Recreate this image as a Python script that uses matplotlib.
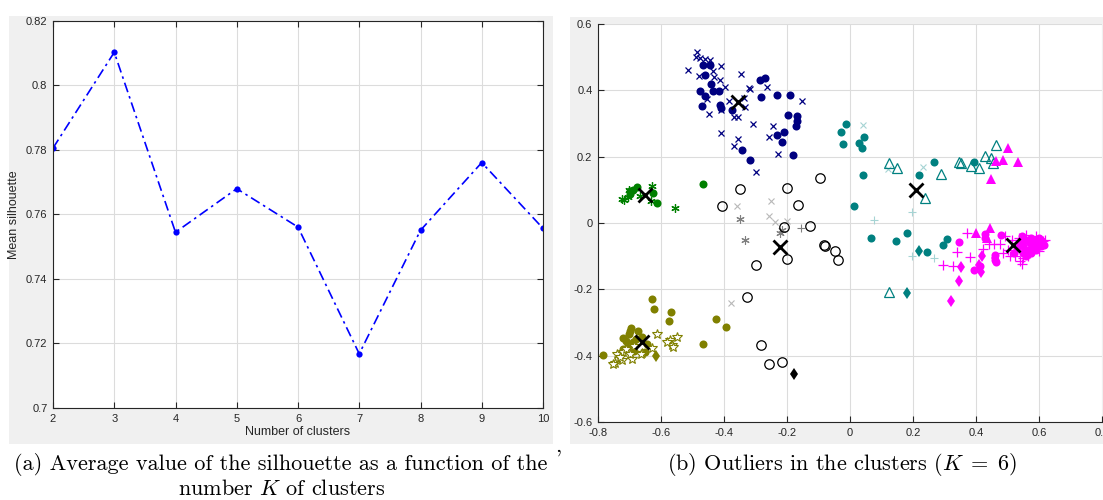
import matplotlib
matplotlib.use("Agg")
import matplotlib.pyplot as plt
from matplotlib.patches import Rectangle

plt.rcParams['font.family'] = ['Liberation Sans', 'DejaVu Sans']
plt.rcParams['axes.unicode_minus'] = False
plt.rcParams['mathtext.fontset'] = 'cm'

# mean silhouette vs number of clusters
n_clusters = [2, 3, 4, 5, 6, 7, 8, 9, 10]
mean_silhouette = [0.7806, 0.8103, 0.7545, 0.7680, 0.7561, 0.7168, 0.7551, 0.7761, 0.7557]
sil_yticks = [0.7, 0.72, 0.74, 0.76, 0.78, 0.8, 0.82]
sil_yticklabels = ['0.7', '0.72', '0.74', '0.76', '0.78', '0.8', '0.82']

# cluster 1 (navy)
navy_dots = [(-0.467, 0.475), (-0.445, 0.477), (-0.460, 0.446), (-0.442, 0.420), (-0.475, 0.397),
             (-0.460, 0.384), (-0.436, 0.397), (-0.416, 0.398), (-0.469, 0.354), (-0.414, 0.356),
             (-0.410, 0.348), (-0.374, 0.342), (-0.285, 0.430), (-0.270, 0.436), (-0.283, 0.379),
             (-0.231, 0.385), (-0.190, 0.385), (-0.198, 0.326), (-0.168, 0.323), (-0.169, 0.309),
             (-0.171, 0.291), (-0.233, 0.266), (-0.208, 0.274), (-0.216, 0.244), (-0.182, 0.206),
             (-0.343, 0.220), (-0.319, 0.190)]
navy_cross = [(-0.485, 0.517), (-0.488, 0.502), (-0.477, 0.497), (-0.460, 0.494), (-0.445, 0.492),
              (-0.513, 0.462), (-0.480, 0.442), (-0.436, 0.457), (-0.412, 0.432), (-0.409, 0.474),
              (-0.398, 0.410), (-0.449, 0.329), (-0.411, 0.342), (-0.409, 0.272), (-0.385, 0.369),
              (-0.367, 0.320), (-0.357, 0.320), (-0.346, 0.448), (-0.338, 0.376), (-0.332, 0.349),
              (-0.320, 0.406), (-0.307, 0.297), (-0.263, 0.409), (-0.243, 0.291), (-0.258, 0.259),
              (-0.227, 0.207), (-0.151, 0.367), (-0.357, 0.254), (-0.367, 0.232), (-0.299, 0.154),
              (-0.432, 0.440), (-0.455, 0.375), (-0.318, 0.403)]

# cluster 2 (green)
green_dots = [(-0.699, 0.096), (-0.677, 0.108), (-0.699, 0.086), (-0.625, 0.089), (-0.614, 0.059),
              (-0.467, 0.117), (-0.690, 0.100)]
green_star = [(-0.723, 0.071), (-0.718, 0.068), (-0.701, 0.101), (-0.666, 0.081), (-0.627, 0.111),
              (-0.557, 0.046), (-0.631, 0.066), (-0.706, 0.078)]

# cluster 3 (olive)
olive_dots = [(-0.629, -0.230), (-0.621, -0.259), (-0.569, -0.269), (-0.574, -0.294), (-0.424, -0.289),
              (-0.394, -0.314), (-0.466, -0.365), (-0.785, -0.397), (-0.695, -0.316), (-0.700, -0.326),
              (-0.674, -0.326), (-0.721, -0.346), (-0.712, -0.356), (-0.703, -0.336), (-0.680, -0.350),
              (-0.705, -0.372), (-0.690, -0.360), (-0.660, -0.345), (-0.645, -0.365), (-0.720, -0.380),
              (-0.685, -0.385), (-0.650, -0.390)]
olive_diam = [(-0.617, -0.402)]
olive_pent = [(-0.612, -0.336), (-0.572, -0.352), (-0.548, -0.343), (-0.566, -0.367), (-0.561, -0.375),
              (-0.580, -0.360), (-0.629, -0.377), (-0.661, -0.392), (-0.693, -0.409), (-0.724, -0.412),
              (-0.745, -0.422), (-0.752, -0.425), (-0.740, -0.395), (-0.720, -0.390), (-0.710, -0.380),
              (-0.687, -0.372), (-0.665, -0.395), (-0.700, -0.395), (-0.730, -0.405)]

# cluster 4 (black)
black_rings = [(-0.405, 0.052), (-0.349, 0.102), (-0.200, 0.105), (-0.166, 0.054), (-0.095, 0.135),
               (-0.210, -0.012), (-0.128, -0.008), (-0.083, -0.065), (-0.080, -0.068), (-0.049, -0.083),
               (-0.037, -0.112), (-0.199, -0.108), (-0.299, -0.127), (-0.327, -0.223), (-0.283, -0.368),
               (-0.257, -0.424), (-0.217, -0.419)]
black_diam = [(-0.178, -0.456)]
black_cross = [(-0.360, 0.052), (-0.252, 0.067), (-0.258, 0.020), (-0.237, 0.002), (-0.200, 0.007),
               (-0.379, -0.240)]
black_star = [(-0.349, 0.013), (-0.334, -0.052), (-0.222, -0.030), (-0.217, -0.020)]
black_plus = [(-0.154, -0.014)]

# cluster 5 (teal)
teal_dots = [(-0.027, 0.275), (-0.014, 0.298), (-0.023, 0.237), (0.027, 0.242), (0.044, 0.259),
             (0.037, 0.227), (0.041, 0.144), (0.013, 0.050), (0.218, 0.144), (0.266, 0.183),
             (0.395, 0.184), (0.068, -0.046), (0.147, -0.054), (0.182, -0.029), (0.246, -0.087),
             (0.296, -0.066), (0.309, -0.049)]
teal_diam = [(0.219, -0.085), (0.182, -0.211)]
teal_tri = [(0.123, 0.182), (0.150, 0.166), (0.289, 0.149), (0.239, 0.076), (0.347, 0.183),
            (0.352, 0.180), (0.385, 0.171), (0.410, 0.166), (0.429, 0.202), (0.447, 0.195),
            (0.454, 0.181), (0.465, 0.236), (0.123, -0.207)]
teal_plus = [(0.076, 0.008), (0.197, 0.032), (0.197, -0.100), (0.268, -0.105)]
teal_cross = [(0.041, 0.295), (0.121, 0.164), (0.233, 0.169)]

# cluster 6 (magenta)
mag_dots = [(0.345, -0.057), (0.430, -0.034), (0.430, -0.044), (0.478, -0.035), (0.393, -0.143),
            (0.412, -0.129), (0.461, -0.097), (0.459, -0.111), (0.464, -0.119), (0.520, -0.089),
            (0.540, -0.060), (0.550, -0.070), (0.560, -0.050), (0.565, -0.080), (0.570, -0.060),
            (0.575, -0.045), (0.580, -0.070), (0.585, -0.055), (0.590, -0.065), (0.595, -0.050),
            (0.600, -0.060), (0.605, -0.070), (0.610, -0.055), (0.550, -0.090), (0.560, -0.100),
            (0.575, -0.090), (0.590, -0.080), (0.600, -0.045), (0.615, -0.065), (0.530, -0.075),
            (0.545, -0.040)]
mag_diam = [(0.352, -0.132), (0.345, -0.175), (0.320, -0.236), (0.418, -0.099), (0.410, -0.127),
            (0.417, -0.147), (0.460, -0.105)]
mag_tri = [(0.502, 0.226), (0.465, 0.186), (0.486, 0.189), (0.533, 0.184), (0.449, 0.133),
           (0.399, -0.030), (0.443, -0.014), (0.435, -0.045)]
mag_plus = [(0.295, -0.127), (0.327, -0.129), (0.340, -0.087), (0.371, -0.029), (0.382, -0.104),
            (0.422, -0.077), (0.441, -0.064), (0.458, -0.064), (0.475, -0.064), (0.491, -0.039),
            (0.507, -0.099), (0.541, -0.114), (0.547, -0.124), (0.570, -0.089), (0.580, -0.074),
            (0.590, -0.040), (0.613, -0.054), (0.560, -0.035), (0.535, -0.045), (0.525, -0.100),
            (0.550, -0.105), (0.565, -0.100), (0.600, -0.085), (0.620, -0.050), (0.500, -0.080),
            (0.485, -0.090), (0.515, -0.050)]

centroids = [(-0.356, 0.365), (-0.650, 0.083), (-0.661, -0.360), (-0.222, -0.072),
             (0.210, 0.101), (0.517, -0.065)]

NAVY = (0, 0, 0.5)
GREEN = (0, 0.5, 0)
OLIVE = (0.5, 0.5, 0)
TEAL = (0, 0.5, 0.5)
MAGENTA = (1, 0, 1)
LGRAY = (0.72, 0.72, 0.72)
MGRAY = (0.5, 0.5, 0.5)
LTEAL = (0.65, 0.83, 0.83)
ASTER = (6, 2, 0)
TXT = '#262626'
W, H = 1103, 500


def pts(ax, data, **kw):
    xs = [p[0] for p in data]
    ys = [p[1] for p in data]
    ax.plot(xs, ys, linestyle='none', **kw)


def px_box(x0, y0, x1, y1):
    # pixel box (top-left origin) -> figure fraction rect
    return [x0 / W, 1 - y1 / H, (x1 - x0) / W, (y1 - y0) / H]


def matlab_axes(ax):
    ax.set_facecolor('white')
    ax.grid(True, color='#dcdcdc', linewidth=0.8)
    ax.set_axisbelow(True)
    ax.tick_params(direction='in', length=4, width=0.8, colors=TXT, labelsize=8, pad=4)
    for s in ax.spines.values():
        s.set_color(TXT)
        s.set_linewidth(0.8)


fig = plt.figure(figsize=(W / 100, H / 100), dpi=100)
fig.patch.set_facecolor('white')

# grey figure panels behind each plot
for box in [(9, 16, 553, 444), (570, 17, 1110, 444)]:
    r = px_box(*box)
    fig.patches.append(Rectangle((r[0], r[1]), r[2], r[3], transform=fig.transFigure,
                                 facecolor='#f0f0f0', edgecolor='none', zorder=-10))

# (a) silhouette curve
ax1 = fig.add_axes(px_box(53, 21, 543, 408))
matlab_axes(ax1)
ax1.tick_params(top=True, right=True)
ax1.plot(n_clusters, mean_silhouette, color='blue', linewidth=1.2,
         linestyle=(0, (6, 2.5, 1.5, 2.5)), marker='o', markersize=4.5, markeredgewidth=0)
ax1.set_xlim(2, 10)
ax1.set_ylim(0.7, 0.82)
ax1.set_xticks(n_clusters)
ax1.set_yticks(sil_yticks)
ax1.set_yticklabels(sil_yticklabels)
ax1.set_xlabel('Number of clusters', fontsize=9, color=TXT, labelpad=2)
ax1.set_ylabel('Mean silhouette', fontsize=9, color=TXT, labelpad=4)

# (b) clusters with outliers
ax2 = fig.add_axes(px_box(598, 24, 1102, 422))
matlab_axes(ax2)
ax2.spines['top'].set_visible(False)
ax2.spines['right'].set_visible(False)
ax2.set_xlim(-0.8, 0.8)
ax2.set_ylim(-0.6, 0.6)
ax2.set_xticks([-0.8, -0.6, -0.4, -0.2, 0, 0.2, 0.4, 0.6, 0.8])
ax2.set_xticklabels(['-0.8', '-0.6', '-0.4', '-0.2', '0', '0.2', '0.4', '0.6', '0.8'])
ax2.set_yticks([-0.6, -0.4, -0.2, 0, 0.2, 0.4, 0.6])
ax2.set_yticklabels(['-0.6', '-0.4', '-0.2', '0', '0.2', '0.4', '0.6'])

dot = dict(marker='o', markersize=5.8, markeredgewidth=0)
pts(ax2, navy_cross, marker='x', color=NAVY, markersize=4.5, markeredgewidth=0.9)
pts(ax2, navy_dots, color=NAVY, **dot)
pts(ax2, green_star, marker=ASTER, color=GREEN, markersize=6, markeredgewidth=0.9)
pts(ax2, green_dots, color=GREEN, **dot)
pts(ax2, olive_dots, color=OLIVE, **dot)
pts(ax2, olive_pent, marker='*', markerfacecolor='white', markeredgecolor=OLIVE,
    markersize=7.5, markeredgewidth=0.8)
pts(ax2, olive_diam, marker='d', color=OLIVE, markersize=6, markeredgewidth=0)
pts(ax2, black_cross, marker='x', color=LGRAY, markersize=5, markeredgewidth=0.8)
pts(ax2, black_star, marker=ASTER, color=MGRAY, markersize=6, markeredgewidth=0.8)
pts(ax2, black_plus, marker='+', color=MGRAY, markersize=6, markeredgewidth=0.8)
pts(ax2, black_rings, marker='o', markerfacecolor='none', markeredgecolor='black',
    markersize=6.8, markeredgewidth=0.9)
pts(ax2, black_diam, marker='d', color='black', markersize=6, markeredgewidth=0)
pts(ax2, teal_plus, marker='+', color=LTEAL, markersize=6, markeredgewidth=0.8)
pts(ax2, teal_cross, marker='x', color=LTEAL, markersize=5, markeredgewidth=0.8)
pts(ax2, teal_dots, color=TEAL, **dot)
pts(ax2, teal_diam, marker='d', color=TEAL, markersize=6, markeredgewidth=0)
pts(ax2, teal_tri, marker='^', markerfacecolor='none', markeredgecolor=TEAL,
    markersize=7.5, markeredgewidth=0.9)
pts(ax2, mag_plus, marker='+', color=MAGENTA, markersize=7, markeredgewidth=0.9)
pts(ax2, mag_dots, color=MAGENTA, **dot)
pts(ax2, mag_diam, marker='d', color=MAGENTA, markersize=6, markeredgewidth=0)
pts(ax2, mag_tri, marker='^', color=MAGENTA, markersize=6.5, markeredgewidth=0)
pts(ax2, centroids, marker='x', color='black', markersize=10, markeredgewidth=2)

# captions
cap = dict(fontfamily='cmr10', fontsize=16, color='black', ha='center', va='center')
fig.text(281 / W, 1 - 465 / H, '(a) Average value of the silhouette as a function of the', **cap)
fig.text(282 / W, 1 - 489 / H, r'number $K$ of clusters', **cap)
fig.text(842 / W, 1 - 465 / H, r'(b) Outliers in the clusters $(K\;=\;6)$', **cap)
fig.text(558 / W, 1 - 446 / H, ',', **cap)

fig.savefig('out.png', dpi=100)
